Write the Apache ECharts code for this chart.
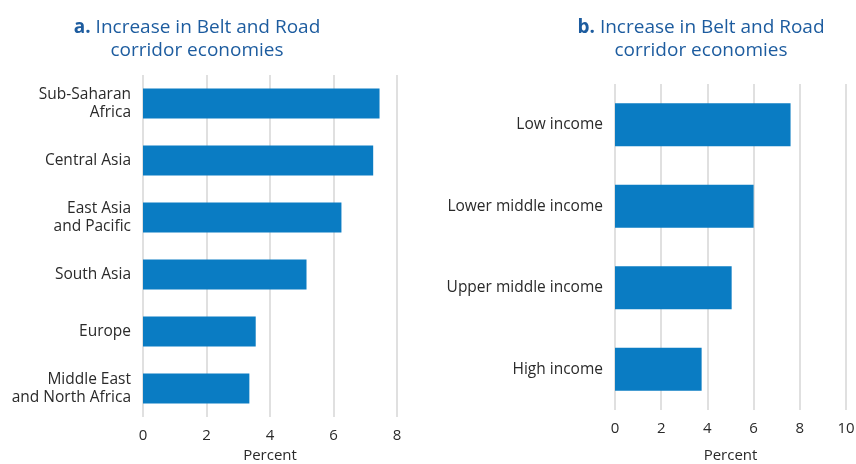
<!DOCTYPE html>
<html><head><meta charset="utf-8">
<script src="https://cdn.jsdelivr.net/npm/echarts@6/dist/echarts.min.js"></script>
<style>html,body{margin:0;padding:0;background:#fff}#c{width:856px;height:464px}</style>
</head><body><div id="c"></div>
<script>
const regionCategories = ['Sub-Saharan\nAfrica', 'Central Asia', 'East Asia\nand Pacific', 'South Asia', 'Europe', 'Middle East\nand North Africa'];
const regionValues = [7.45, 7.25, 6.25, 5.15, 3.55, 3.35];
const incomeCategories = ['Low income', 'Lower middle income', 'Upper middle income', 'High income'];
const incomeValues = [7.6, 6.0, 5.05, 3.75];
const titleA = 'Increase in Belt and Road\ncorridor economies';
const titleB = 'Increase in Belt and Road\ncorridor economies';
const axisName = 'Percent';

const FONT = '"Open Sans", "Noto Sans", sans-serif';
const BLUE = '#0a7cc3';
const TITLE = '#1d5c9f';
const TXT = '#2a2a2a';
const GRID = '#d6d6d6';

const chart = echarts.init(document.getElementById('c'), null, {renderer: 'canvas'});
function titleText(letter, t) {
  const lines = t.split('\n');
  return '{b|' + letter + '} {n|' + lines[0] + '}\n{n|' + lines[1] + '}';
}
const titleRich = {
  b: {fontWeight: 'bold', fontSize: 19, color: TITLE, fontFamily: FONT, lineHeight: 23},
  n: {fontWeight: 'normal', fontSize: 19, color: TITLE, fontFamily: FONT, lineHeight: 23}
};
function xAx(gi, max, gap) {
  return {
    type: 'value', gridIndex: gi, min: 0, max: max, interval: 2,
    name: axisName, nameLocation: 'middle', nameGap: gap,
    nameTextStyle: {fontFamily: FONT, fontSize: 15, color: TXT},
    axisLine: {show: false}, axisTick: {show: false},
    axisLabel: {fontFamily: FONT, fontSize: 15, color: TXT, margin: 11},
    splitLine: {show: true, lineStyle: {color: GRID, width: 1.5}}
  };
}
function yAx(gi, cats) {
  return {
    type: 'category', gridIndex: gi, data: cats, inverse: true,
    axisLine: {show: false}, axisTick: {show: false},
    axisLabel: {fontFamily: FONT, fontSize: 15.5, color: TXT, margin: 12, lineHeight: 18, align: 'right'}
  };
}
chart.setOption({
  animation: false,
  title: [
    {text: titleText('a.', titleA), left: 192, top: 11, textAlign: 'center',
     textStyle: {rich: titleRich, align: 'center', fontWeight: 'normal'}},
    {text: titleText('b.', titleB), left: 696, top: 11, textAlign: 'center',
     textStyle: {rich: titleRich, align: 'center', fontWeight: 'normal'}}
  ],
  grid: [
    {left: 143, right: 856 - 397, top: 75, bottom: 47, containLabel: false, outerBoundsMode: 'none'},
    {left: 615, right: 856 - 846, top: 84, bottom: 54, containLabel: false, outerBoundsMode: 'none'}
  ],
  xAxis: [xAx(0, 8, 31), xAx(1, 10, 38)],
  yAxis: [yAx(0, regionCategories), yAx(1, incomeCategories)],
  series: [
    {type: 'bar', xAxisIndex: 0, yAxisIndex: 0, data: regionValues, barCategoryGap: '47%',
     itemStyle: {color: BLUE}},
    {type: 'bar', xAxisIndex: 1, yAxisIndex: 1, data: incomeValues, barCategoryGap: '47%',
     itemStyle: {color: BLUE}}
  ]
});
</script></body></html>
